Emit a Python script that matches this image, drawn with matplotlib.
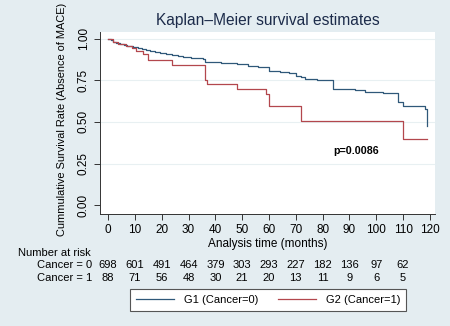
import matplotlib
matplotlib.use('Agg')
import matplotlib.pyplot as plt
from matplotlib.lines import Line2D
from matplotlib.transforms import blended_transform_factory

plt.rcParams['font.family'] = ['Liberation Sans', 'DejaVu Sans']

# Kaplan-Meier step data
g1_time = [0, 1, 2, 3, 4.5, 6, 7, 8, 9.4, 11, 12.6, 14, 15.7, 17.5, 19.4, 21.5, 23.7, 26, 28, 31,
           35.5, 36.2, 42, 48, 52.3, 56, 60.1, 64, 67.5, 70, 71.8, 73.5, 78, 84, 87, 92, 95.8,
           102.6, 108.2, 109.8, 118.1, 119]
g1_surv = [1, 0.99, 0.981, 0.975, 0.967, 0.962, 0.957, 0.954, 0.951, 0.945, 0.939, 0.933, 0.927,
           0.921, 0.915, 0.908, 0.901, 0.896, 0.891, 0.884, 0.875, 0.861, 0.855, 0.847, 0.835,
           0.828, 0.805, 0.798, 0.791, 0.778, 0.767, 0.757, 0.752, 0.70, 0.697, 0.69, 0.681,
           0.675, 0.621, 0.595, 0.575, 0.477]
g2_time = [0, 1.8, 3.7, 6.8, 8.8, 10.6, 13.1, 15, 23.7, 36.2, 36.8, 48, 58.9, 60.1, 71.8, 109.8, 119]
g2_surv = [1, 0.981, 0.967, 0.958, 0.941, 0.927, 0.907, 0.871, 0.841, 0.751, 0.727, 0.697, 0.668,
           0.597, 0.507, 0.40, 0.40]

risk_times = [0, 10, 20, 30, 40, 50, 60, 70, 80, 90, 100, 110]
risk_g1 = [698, 601, 491, 464, 379, 303, 293, 227, 182, 136, 97, 62]
risk_g2 = [88, 71, 56, 48, 30, 21, 20, 13, 11, 9, 6, 5]

bg = '#e4edf1'
blue = '#2f5879'
red = '#b3474d'

fig = plt.figure(figsize=(4.5, 3.26), dpi=100, facecolor=bg)
ax = fig.add_axes([0.2222, 0.3436, 0.7445, 0.5582])
ax.set_facecolor('white')

ax.step(g1_time, g1_surv, where='post', color=blue, lw=0.9)
ax.step(g2_time, g2_surv, where='post', color=red, lw=0.9)

ax.set_xlim(-3, 121.9)
ax.set_ylim(-0.052, 1.039)
ax.set_xticks(range(0, 121, 10))
ax.set_yticks([0, 0.25, 0.5, 0.75, 1.0])
ax.set_yticklabels(['0.00', '0.25', '0.50', '0.75', '1.00'], rotation=90, va='center')
ax.tick_params(labelsize=8.5, length=4, width=0.7, color='#333333')
ax.tick_params(axis='x', pad=3)
for y in [0.25, 0.5, 0.75, 1.0]:
    ax.axhline(y, color='#e8f0f2', lw=0.8, zorder=0)
for s in ['top', 'right']:
    ax.spines[s].set_visible(False)
for s in ['left', 'bottom']:
    ax.spines[s].set_linewidth(0.7)
    ax.spines[s].set_color('#333333')

ax.set_title('Kaplan\u2013Meier survival estimates', fontsize=11.2, color='#1c2b4a', pad=5)
ax.set_xlabel('Analysis time (months)', fontsize=8.5, labelpad=2)
ax.text(-0.113, 0.522, 'Cummulative Survival Rate (Absence of MACE)', transform=ax.transAxes,
        rotation=90, fontsize=7.9, ha='center', va='center')

ax.text(84, 0.327, 'p=0.0086', fontsize=7.7, fontweight='bold', va='center')

# number at risk table
tr = blended_transform_factory(ax.transData, fig.transFigure)
fig.text(18 / 450, 1 - 253 / 326, 'Number at risk', fontsize=8, va='center')
fig.text(92 / 450, 1 - 265 / 326, 'Cancer = 0', fontsize=8, va='center', ha='right')
fig.text(92 / 450, 1 - 278 / 326, 'Cancer = 1', fontsize=8, va='center', ha='right')
for t, a, b in zip(risk_times, risk_g1, risk_g2):
    ax.text(t, 1 - 265 / 326, str(a), transform=tr, fontsize=8, ha='center', va='center')
    ax.text(t, 1 - 278 / 326, str(b), transform=tr, fontsize=8, ha='center', va='center')

handles = [Line2D([], [], color=blue, lw=0.9), Line2D([], [], color=red, lw=0.9)]
leg = fig.legend(handles, ['G1 (Cancer=0)', 'G2 (Cancer=1)'], loc='center',
                 bbox_to_anchor=(268 / 450, 1 - 300 / 326), ncol=2, fontsize=8,
                 handlelength=3.4, handletextpad=0.9, columnspacing=1.8,
                 fancybox=False, framealpha=1, edgecolor='#555555', facecolor='white',
                 borderpad=0.5)
leg.get_frame().set_linewidth(0.8)

fig.savefig('out.png', dpi=100, facecolor=bg)
